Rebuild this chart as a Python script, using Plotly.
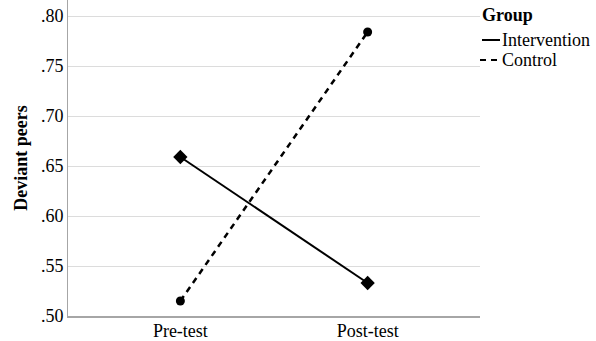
import plotly.graph_objects as go

categories = ["Pre-test", "Post-test"]
intervention = [0.659, 0.533]
control = [0.515, 0.784]
groups = ["Intervention", "Control"]
y_ticks = [0.50, 0.55, 0.60, 0.65, 0.70, 0.75, 0.80]
y_tick_labels = [".50", ".55", ".60", ".65", ".70", ".75", ".80"]

FONT = "Liberation Serif"
L, R, T, B = 68, 116, 0, 25
W, H = 596, 341
PW, PH = W - L - R, H - T - B


def px(x):
    return (x - L) / PW


def py(y):
    return (H - B - y) / PH


fig = go.Figure()
fig.add_trace(go.Scatter(
    x=categories, y=intervention, name=groups[0], mode="lines+markers",
    line=dict(color="black", width=2, dash="solid"),
    marker=dict(symbol="diamond", size=11, color="black"),
    showlegend=False,
))
fig.add_trace(go.Scatter(
    x=categories, y=control, name=groups[1], mode="lines+markers",
    line=dict(color="black", width=2.5, dash="6px,5px"),
    marker=dict(symbol="circle", size=9, color="black"),
    showlegend=False,
))

# manual legend
fig.add_annotation(xref="paper", yref="paper", x=px(507), y=py(15),
                   text="<b>Group</b>", showarrow=False, xanchor="center",
                   yanchor="middle", font=dict(size=18))
fig.add_shape(type="line", xref="paper", yref="paper",
              x0=px(482), x1=px(500), y0=py(40), y1=py(40),
              line=dict(color="black", width=2))
fig.add_annotation(xref="paper", yref="paper", x=px(500), y=py(40),
                   text=groups[0], showarrow=False, xanchor="left",
                   yanchor="middle", font=dict(size=18))
fig.add_shape(type="line", xref="paper", yref="paper",
              x0=px(480), x1=px(499), y0=py(60), y1=py(60),
              line=dict(color="black", width=2, dash="6px,5px"))
fig.add_annotation(xref="paper", yref="paper", x=px(500), y=py(60),
                   text=groups[1], showarrow=False, xanchor="left",
                   yanchor="middle", font=dict(size=18))

fig.update_layout(
    width=W, height=H,
    margin=dict(l=L, r=R, t=T, b=B, autoexpand=False),
    plot_bgcolor="white", paper_bgcolor="white",
    font=dict(family=FONT, size=18, color="black"),
    showlegend=False,
    xaxis=dict(
        type="category", range=[-0.6, 1.6], showgrid=False,
        showline=True, linecolor="#a6a6a6", linewidth=2,
        ticks="", tickfont=dict(size=18), zeroline=False, automargin=False,
        ticklabelstandoff=-3,
    ),
    yaxis=dict(
        range=[0.5, 0.816], tickvals=y_ticks, ticktext=y_tick_labels,
        showgrid=True, gridcolor="#dcdcdc", gridwidth=1,
        showline=True, linecolor="#a6a6a6", linewidth=1,
        ticks="", tickfont=dict(size=18), zeroline=False, automargin=False,
        title=dict(text="<b>Deviant peers</b>", font=dict(size=18), standoff=8),
    ),
)

fig.write_html(
    "out.html",
    config={"displayModeBar": False},
    post_script="document.body.style.margin='0';document.body.style.overflow='hidden';",
)
